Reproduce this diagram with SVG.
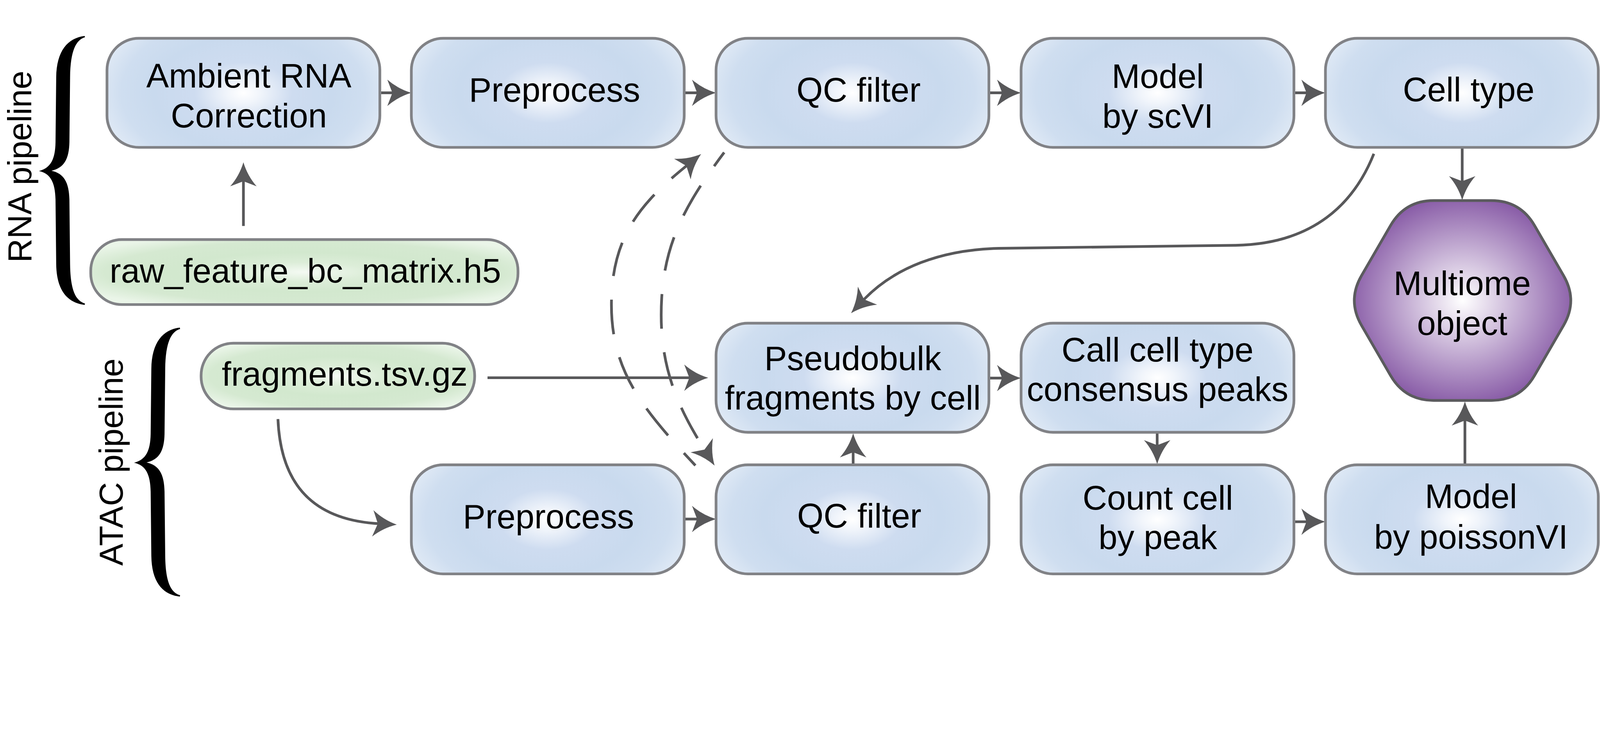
<svg xmlns="http://www.w3.org/2000/svg" width="4726" height="1909" viewBox="0 0 4726 1909">
<defs>
  <radialGradient id="gBlue" cx="0.5" cy="0.5" r="0.596" gradientTransform="translate(0.5 0.5) scale(1 1.565) translate(-0.5 -0.5)">
    <stop offset="0" stop-color="#ffffff"/>
    <stop offset="0.1" stop-color="#f1f5fb"/>
    <stop offset="0.3" stop-color="#cedcf0"/>
    <stop offset="0.55" stop-color="#c9daee"/>
    <stop offset="0.75" stop-color="#cfdef0"/>
    <stop offset="0.9" stop-color="#dfe9f5"/>
    <stop offset="1" stop-color="#ebf2f9"/>
  </radialGradient>
  <radialGradient id="gGreen" cx="0.5" cy="0.5" r="0.6">
    <stop offset="0" stop-color="#f4faf3"/>
    <stop offset="0.25" stop-color="#dcedd8"/>
    <stop offset="0.5" stop-color="#d2e8ce"/>
    <stop offset="0.78" stop-color="#d5e9d1"/>
    <stop offset="1" stop-color="#eaf5e8"/>
  </radialGradient>
  <radialGradient id="gPurple" cx="0.5" cy="0.5" r="0.52">
    <stop offset="0" stop-color="#ffffff"/>
    <stop offset="1" stop-color="#8a5ea8"/>
  </radialGradient>
  <marker id="ah" markerUnits="userSpaceOnUse" viewBox="-75 -42 80 84" refX="-50" refY="0" markerWidth="80" markerHeight="84" orient="auto" overflow="visible">
    <path d="M0,0 Q-40,-12 -71,-39 L-56,0 L-71,39 Q-40,12 0,0 Z" fill="#58585a"/>
  </marker>
  <path id="brace" d="M250,106 C200,112 167,150 166,228 L164,420 C163,470 150,496 115,505 C150,512 163,540 164,590 L166,780 C167,858 200,894 250,900 L251,896 C225,888 208,860 207,780 L205,590 C204,540 190,512 152,504 C190,496 204,468 205,420 L207,228 C208,148 225,118 251,110 Z"/>
</defs>
<style>
  @media (max-width: 4725px) {
    svg:root { width: 100vw; height: calc(100vw * 1909 / 4726); }
  }
  .box{fill:url(#gBlue);stroke:#818286;stroke-width:8}
  .src{fill:url(#gGreen);stroke:#818286;stroke-width:8}
  .hex{fill:url(#gPurple);stroke:#5b5b5e;stroke-width:8}
  .t{font-family:"Liberation Sans",Arial,Helvetica,sans-serif;font-size:100px;fill:#000000;text-anchor:middle}
  .ts{text-anchor:start}
  .lbl{font-family:"Liberation Sans",Arial,Helvetica,sans-serif;font-size:98px;fill:#000000;text-anchor:middle}
  .c{fill:none;stroke:#58585a;stroke-width:8;marker-end:url(#ah)}
  .d{stroke-dasharray:102 70;stroke-dashoffset:52}
</style>
<rect x="0" y="0" width="4726" height="1909" fill="#ffffff"/>

<g id="labels">
  <use href="#brace" fill="#000000"/>
  <use href="#brace" fill="#000000" transform="translate(281 861)"/>
  <text class="lbl" transform="translate(92 492) rotate(-90)">RNA pipeline</text>
  <text class="lbl" transform="translate(362 1364) rotate(-90)">ATAC pipeline</text>
</g>

<g id="connectors">
  <path class="c" d="M719,667 L719,529"/>
  <path class="c" d="M1126,274 L1165,274"/>
  <path class="c" d="M2024,274 L2065,274"/>
  <path class="c" d="M2924,274 L2966,274"/>
  <path class="c" d="M3826,274 L3865,274"/>
  <path class="c" d="M4319,437 L4319,541"/>
  <path class="c" d="M1440,1115 L2042,1115"/>
  <path class="c" d="M2924,1116 L2966,1116"/>
  <path class="c" d="M2520,1369 L2520,1329"/>
  <path class="c" d="M3418,1279 L3418,1320"/>
  <path class="c" d="M2024,1532 L2065,1532"/>
  <path class="c" d="M3826,1540 L3865,1540"/>
  <path class="c" d="M4327,1369 L4327,1235"/>
  <path class="c" d="M821,1237 C830,1455 950,1537 1122,1546"/>
  <path class="c" d="M4058,454 C4000,600 3880,720 3650,724 L2950,733 C2780,737 2640,790 2548,888"/>
  <path class="c d" d="M2054,1374 C1904,1213 1806,1100 1806,900 C1806,700 1890,600 2032,486"/>
  <path class="c d" d="M2139,450 C2019,610 1953,730 1953,930 C1953,1100 2010,1215 2084,1332"/>
</g>

<g id="n-ambient">
  <rect class="box" x="316" y="113" width="806" height="322" rx="94" ry="94"/>
  <text class="t" x="735" y="258">Ambient RNA</text>
  <text class="t" x="735" y="376">Correction</text>
</g>
<g id="n-rna-preprocess">
  <rect class="box" x="1215" y="113" width="806" height="322" rx="94" ry="94"/>
  <text class="t" x="1638" y="300">Preprocess</text>
</g>
<g id="n-rna-qc">
  <rect class="box" x="2115" y="113" width="806" height="322" rx="94" ry="94"/>
  <text class="t" x="2536" y="300">QC filter</text>
</g>
<g id="n-scvi">
  <rect class="box" x="3016" y="113" width="806" height="322" rx="94" ry="94"/>
  <text class="t" x="3420" y="259">Model</text>
  <text class="t" x="3420" y="377">by scVI</text>
</g>
<g id="n-celltype">
  <rect class="box" x="3915" y="113" width="806" height="322" rx="94" ry="94"/>
  <text class="t" x="4338" y="299">Cell type</text>
</g>
<g id="n-raw">
  <rect class="src" x="268" y="707" width="1262" height="192" rx="92" ry="92"/>
  <text class="t ts" x="324" y="834">raw_feature_bc_matrix.h5</text>
</g>
<g id="n-fragments">
  <rect class="src" x="594" y="1013" width="808" height="194" rx="95" ry="95"/>
  <text class="t ts" x="655" y="1139">fragments.tsv.gz</text>
</g>
<g id="n-pseudobulk">
  <rect class="box" x="2115" y="954" width="806" height="322" rx="94" ry="94"/>
  <text class="t" x="2519" y="1092">Pseudobulk</text>
  <text class="t" x="2519" y="1209">fragments by cell</text>
</g>
<g id="n-peaks">
  <rect class="box" x="3016" y="954" width="806" height="322" rx="94" ry="94"/>
  <text class="t" x="3419" y="1067">Call cell type</text>
  <text class="t" x="3419" y="1183">consensus peaks</text>
</g>
<g id="n-atac-preprocess">
  <rect class="box" x="1215" y="1372" width="806" height="322" rx="94" ry="94"/>
  <text class="t" x="1620" y="1560">Preprocess</text>
</g>
<g id="n-atac-qc">
  <rect class="box" x="2115" y="1372" width="806" height="322" rx="94" ry="94"/>
  <text class="t" x="2538" y="1557">QC filter</text>
</g>
<g id="n-count">
  <rect class="box" x="3016" y="1372" width="806" height="322" rx="94" ry="94"/>
  <text class="t" x="3420" y="1504">Count cell</text>
  <text class="t" x="3420" y="1621">by peak</text>
</g>
<g id="n-poissonvi">
  <rect class="box" x="3915" y="1372" width="806" height="322" rx="94" ry="94"/>
  <text class="t" x="4345" y="1499">Model</text>
  <text class="t" x="4345" y="1619">by poissonVI</text>
</g>
<g id="n-multiome">
  <path class="hex" d="M4235,592 L4405,592 Q4490,592 4532.6,665.5 L4618.4,813.5 Q4661,887 4618.4,960.5 L4532.6,1108.5 Q4490,1182 4405,1182 L4235,1182 Q4150,1182 4107.4,1108.5 L4021.6,960.5 Q3979,887 4021.6,813.5 L4107.4,665.5 Q4150,592 4235,592 Z"/>
  <text class="t" x="4319" y="871">Multiome</text>
  <text class="t" x="4319" y="989">object</text>
</g>
</svg>
